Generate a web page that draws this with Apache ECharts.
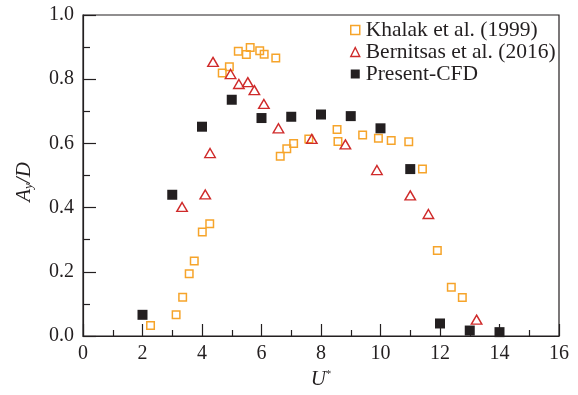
<!DOCTYPE html>
<html>
<head>
<meta charset="utf-8">
<script src="https://cdn.jsdelivr.net/npm/echarts@6/dist/echarts.min.js"></script>
<style>
  html, body { margin: 0; padding: 0; background: #fff; }
  #chart { width: 578px; height: 395px; }
</style>
</head>
<body>
<div id="chart"></div>
<script>
// Khalak et al. (1999)
const khalakU = [2.27, 3.13, 3.35, 3.57, 3.74, 4.01, 4.26, 4.68, 4.92, 5.22, 5.49, 5.62, 5.94, 6.09, 6.48,
                 6.63, 6.85, 7.08, 7.59, 8.54, 8.57, 9.40, 9.93, 10.36, 10.95, 11.41, 11.91, 12.38, 12.75];
const khalakA = [0.033, 0.066, 0.121, 0.194, 0.234, 0.324, 0.350, 0.819, 0.839, 0.887, 0.877, 0.899, 0.889, 0.878, 0.866,
                 0.560, 0.583, 0.600, 0.614, 0.643, 0.606, 0.626, 0.616, 0.609, 0.605, 0.520, 0.266, 0.152, 0.120];

// Bernitsas et al. (2016)
const bernitsasU = [3.33, 4.11, 4.27, 4.37, 4.96, 5.24, 5.54, 5.76, 6.08, 6.57, 7.69, 8.82, 9.88, 11.0, 11.61, 13.23];
const bernitsasA = [0.402, 0.441, 0.570, 0.854, 0.816, 0.785, 0.791, 0.766, 0.723, 0.647, 0.614, 0.597, 0.517, 0.438, 0.380, 0.051];

// Present-CFD
const cfdU = [2, 3, 4, 5, 6, 7, 8, 9, 10, 11, 12, 13, 14];
const cfdA = [0.066, 0.440, 0.652, 0.736, 0.679, 0.683, 0.690, 0.685, 0.647, 0.520, 0.039, 0.017, 0.012];

const xTicks = { min: 0, max: 16, interval: 2 };
const yTicks = { min: 0, max: 1.0, interval: 0.2 };

const zip = (xs, ys) => xs.map((x, i) => [x, ys[i]]);

const serif = '"Liberation Serif", "DejaVu Serif", serif';
const ink = '#231f20';
const orange = '#f6a42a';
const red = '#cf2a2a';

const chart = echarts.init(document.getElementById('chart'));
chart.setOption({
  animation: false,
  grid: {
    left: 83, right: 19, top: 15, bottom: 49,
    show: true, borderColor: ink, borderWidth: 1.2, backgroundColor: 'transparent'
  },
  legend: {
    orient: 'vertical',
    left: 345, top: 14,
    itemWidth: 9, itemHeight: 9, itemGap: 0,
    textStyle: { fontFamily: serif, fontSize: 21.5, lineHeight: 21, color: ink, padding: [0, 0, 0, 1] },
    data: [
      { name: 'Khalak et al. (1999)', icon: 'rect',
        itemStyle: { color: 'transparent', borderColor: orange, borderWidth: 1.5 } },
      { name: 'Bernitsas et al. (2016)', icon: 'triangle',
        itemStyle: { color: 'transparent', borderColor: red, borderWidth: 1.4 } },
      { name: 'Present-CFD', icon: 'rect', itemStyle: { color: ink } }
    ]
  },
  xAxis: {
    type: 'value',
    min: xTicks.min, max: xTicks.max, interval: xTicks.interval,
    name: '{i|U}{s|*}',
    nameLocation: 'middle', nameGap: 33,
    nameTextStyle: {
      rich: {
        i: { fontFamily: serif, fontStyle: 'italic', fontSize: 21, color: ink },
        s: { fontFamily: serif, fontSize: 11, color: ink, verticalAlign: 'top', padding: [0, 0, 9, 0] }
      }
    },
    axisLine: { lineStyle: { color: ink, width: 1.2 } },
    axisTick: { inside: true, length: 12, lineStyle: { color: ink, width: 1.2 } },
    minorTick: { show: true, splitNumber: 2, length: 6, lineStyle: { color: ink, width: 1.2 } },
    splitLine: { show: false },
    axisLabel: { fontFamily: serif, fontSize: 20, color: ink, margin: 8 }
  },
  yAxis: {
    type: 'value',
    min: yTicks.min, max: yTicks.max, interval: yTicks.interval,
    name: '{i|A}{b|y}{i|/D}',
    nameLocation: 'middle', nameGap: 48, nameRotate: 90,
    nameTextStyle: {
      padding: [0, 13, 0, 0],
      rich: {
        i: { fontFamily: serif, fontStyle: 'italic', fontSize: 21, color: ink },
        b: { fontFamily: serif, fontStyle: 'italic', fontSize: 13, color: ink, verticalAlign: 'bottom', padding: [9, 0, 0, 0] }
      }
    },
    axisLine: { lineStyle: { color: ink, width: 1.2 } },
    axisTick: { inside: true, length: 13, lineStyle: { color: ink, width: 1.2 } },
    minorTick: { show: true, splitNumber: 2, length: 7, lineStyle: { color: ink, width: 1.2 } },
    splitLine: { show: false },
    axisLabel: { fontFamily: serif, fontSize: 20, color: ink, margin: 9,
                 formatter: v => v.toFixed(1) }
  },
  series: [
    {
      name: 'Khalak et al. (1999)', type: 'scatter',
      symbol: 'rect', symbolSize: 7.5,
      itemStyle: { color: 'transparent', borderColor: orange, borderWidth: 1.5, opacity: 1 },
      data: zip(khalakU, khalakA), z: 2
    },
    {
      name: 'Bernitsas et al. (2016)', type: 'scatter',
      symbol: 'triangle', symbolSize: [10.5, 9],
      itemStyle: { color: 'transparent', borderColor: red, borderWidth: 1.4, opacity: 1 },
      data: zip(bernitsasU, bernitsasA), z: 3
    },
    {
      name: 'Present-CFD', type: 'scatter',
      symbol: 'rect', symbolSize: 10,
      itemStyle: { color: ink, opacity: 1 },
      data: zip(cfdU, cfdA), z: 4
    }
  ]
});
</script>
</body>
</html>
